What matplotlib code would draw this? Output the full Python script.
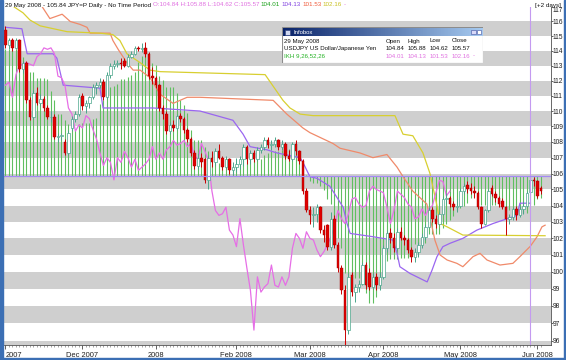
import matplotlib
matplotlib.use('Agg')
import matplotlib.pyplot as plt
import numpy as np
import pandas as pd
from matplotlib.patches import Rectangle

# USD/JPY daily, 1 Nov 2007 - 3 Jun 2008 (weekdays)
dates = pd.bdate_range('2007-11-01', '2008-06-03')

opens = [115.4,114.4,114.7,114.2,114.7,112.8,113.2,110.7,109.6,111.2,110.5,110.8,110.2,109.6,109.6,108.3,108.4,108.0,107.3,108.9,109.5,109.8,
         111.0,110.3,110.5,110.9,111.6,111.7,111.9,110.9,112.4,113.0,113.1,113.2,113.3,113.0,113.6,113.8,114.2,114.1,114.2,113.8,112.3,
         112.2,111.7,110.2,109.8,108.7,109.1,108.9,109.7,109.5,108.8,108.2,107.3,106.5,107.0,106.9,105.6,107.0,106.7,107.4,107.0,106.4,106.9,106.2,
         106.4,106.6,106.9,107.7,106.9,107.3,106.9,107.5,107.7,108.1,107.8,107.9,108.1,107.7,107.9,107.1,106.9,107.9,107.4,106.8,104.9,
         103.7,103.4,103.5,103.9,102.5,102.8,101.5,103.2,101.6,100.2,98.9,96.6,99.8,98.8,99.1,99.3,100.4,99.9,99.1,99.7,99.2,
         99.7,101.4,102.3,102.0,101.4,102.4,102.0,101.9,101.3,100.9,101.2,101.6,102.1,102.7,103.7,103.2,102.9,103.5,104.4,104.5,104.1,103.9,
         104.0,104.9,105.3,105.1,104.9,104.8,103.9,102.9,103.7,105.1,104.7,104.5,104.3,103.9,103.2,103.3,103.8,103.4,103.8,104.0,104.84,105.57,
         105.5,105.1]
highs = [115.7,114.9,114.9,114.9,114.8,113.3,113.3,110.9,111.4,111.6,111.1,111.0,110.4,110.0,109.8,108.6,108.6,108.2,108.8,109.7,110.0,111.1,
         111.2,110.7,111.0,111.8,111.9,112.2,112.1,112.6,113.2,113.4,113.4,113.5,113.5,113.8,114.0,114.3,114.3,114.5,114.6,113.9,112.9,
         112.3,111.8,110.4,110.0,109.3,109.4,109.8,109.9,109.6,108.9,108.3,107.5,107.3,107.3,107.0,107.2,107.4,107.6,107.9,107.1,107.1,107.0,106.7,
         107.0,107.1,107.9,107.8,107.5,107.5,107.7,107.9,108.3,108.3,108.1,108.3,108.2,108.1,108.0,107.5,108.0,108.1,107.5,106.9,105.1,
         104.0,103.9,104.1,104.0,102.8,102.9,103.6,103.4,101.8,100.4,99.2,99.9,100.0,99.3,99.5,100.6,100.6,100.2,99.9,99.9,100.0,
         101.6,102.5,102.6,102.3,102.6,102.7,102.2,102.0,101.5,101.4,101.8,102.3,102.9,103.9,103.9,103.4,103.6,104.6,104.8,104.6,104.3,104.4,
         105.1,105.4,105.5,105.4,105.2,104.9,104.0,103.8,105.0,105.3,104.9,104.6,104.5,104.0,103.5,103.9,104.0,104.0,104.3,104.9,105.88,105.8,
         105.6,105.2]
lows = [114.2,114.1,114.0,114.1,112.6,112.5,110.5,109.4,109.5,110.4,110.3,110.0,109.5,109.3,108.2,108.0,108.1,107.2,107.2,108.7,109.3,109.7,
        110.1,109.9,110.2,110.8,111.1,111.5,110.7,110.8,112.2,112.8,112.9,112.8,112.9,112.9,113.5,113.7,114.0,113.9,113.6,112.1,111.8,
        111.5,110.0,109.5,108.5,108.5,108.7,108.8,109.3,108.6,108.0,107.1,106.3,106.3,106.4,105.4,105.0,106.4,106.5,106.9,106.2,106.3,106.0,105.9,
        106.1,106.3,106.5,106.6,106.6,106.7,106.8,107.3,107.5,107.6,107.5,107.7,107.5,107.5,106.9,106.8,106.8,107.2,106.6,104.7,103.6,
        102.9,102.7,103.0,102.3,101.8,101.3,101.3,101.4,100.0,98.7,95.7,96.4,98.6,98.2,98.8,99.2,99.0,98.9,99.0,98.9,98.9,
        99.6,101.2,101.7,101.2,101.3,101.9,101.6,101.1,100.6,100.6,100.9,101.4,101.9,102.6,103.0,102.6,102.8,103.4,104.1,103.9,103.7,103.6,
        103.9,104.7,104.8,104.7,104.5,103.8,102.6,102.8,103.6,104.6,104.2,103.9,103.8,102.2,102.9,103.1,103.1,103.3,103.5,103.9,104.62,105.2,
        104.5,104.7]
closes = [114.4,114.7,114.2,114.7,112.8,113.2,110.7,109.6,111.2,110.5,110.8,110.2,109.6,109.6,108.3,108.4,108.4,107.3,108.6,109.5,109.8,110.9,
          110.3,110.5,110.9,111.6,111.7,111.9,110.9,112.4,113.0,113.1,113.2,113.1,113.0,113.6,113.8,114.2,114.1,114.2,113.8,112.3,112.2,
          111.7,110.2,109.8,108.7,109.1,108.9,109.7,109.5,108.8,108.2,107.3,106.5,107.0,106.7,105.6,107.0,106.7,107.4,107.0,106.4,106.9,106.2,106.4,
          106.6,106.9,107.7,106.9,107.3,106.9,107.5,107.7,108.1,107.8,107.9,108.1,107.7,107.9,107.1,106.9,107.9,107.4,106.8,104.9,103.7,
          103.4,103.5,103.9,102.5,102.2,101.5,103.2,101.6,100.2,98.9,96.6,99.7,98.8,99.1,99.3,100.4,99.2,99.1,99.7,99.2,99.7,
          101.4,102.3,102.0,101.4,102.4,102.0,101.9,101.3,100.9,101.2,101.6,102.1,102.7,103.7,103.2,102.9,103.5,104.4,104.5,104.1,103.9,104.0,
          104.9,105.2,105.0,104.9,104.8,103.9,102.9,103.7,104.9,104.7,104.5,104.1,103.9,103.2,103.3,103.8,103.4,103.8,104.0,104.8,105.57,105.5,
          104.6,104.9]

# Tenkan-sen (9) per day, drawn as green histogram against the cursor price
tenkan = [114.1, 114.1, 114.1, 114.1, 113.7, 113.6, 112.9, 112.6, 112.55, 112.15,
          112.15, 112.15, 112.1, 111.3, 110.75, 109.8, 109.8, 109.4, 109.15, 109.1,
          108.8, 109.15, 109.2, 109.2, 109.2, 109.5, 109.55, 110.45, 110.75, 111.15,
          111.55, 111.65, 111.8, 112.1, 112.1, 112.25, 112.35, 112.55, 113.25, 113.65,
          113.7, 113.35, 113.2, 113.05, 112.3, 112.05, 111.55, 111.55, 111.55, 111.2,
          110.7, 110.4, 109.9, 108.75, 108.15, 108.1, 108.1, 107.65, 107.45, 107.3,
          106.95, 106.65, 106.45, 106.45, 106.45, 106.45, 106.45, 106.9, 106.9, 106.9,
          106.9, 106.9, 106.9, 106.9, 107.2, 107.3, 107.4, 107.45, 107.45, 107.5,
          107.55, 107.55, 107.55, 107.55, 107.45, 106.5, 105.9, 105.5, 105.4, 105.4,
          105.2, 104.95, 104.4, 104.1, 103.2, 102.05, 101.4, 99.9, 99.85, 99.65,
          99.65, 99.65, 99.55, 98.75, 98.15, 98.15, 98.5, 99.4, 99.9, 100.65,
          100.75, 100.75, 100.75, 100.8, 100.8, 100.8, 101.15, 101.65, 101.65, 101.65,
          101.75, 102.25, 102.25, 102.25, 102.25, 102.6, 102.85, 103.1, 103.35, 103.7,
          103.85, 104.0, 104.15, 104.45, 104.55, 104.55, 104.05, 104.05, 104.05, 104.05,
          104.05, 104.0, 103.95, 103.75, 103.75, 103.75, 103.75, 103.75, 103.55, 103.55,
          104.01, 104.04, 104.4, 104.5]

# Ichimoku lines: (day index, price)
kijun_x = [0, 4.7, 6.2, 13.6, 14.7, 16.5, 27, 27.9, 42.2, 55.6, 65, 67.9, 69.9, 74.7, 77.6, 84.2, 85, 87, 89, 92.7, 96.5,
           97.6, 98.5, 105, 110.7, 111.9, 112.7, 115.6, 120.5, 121.9, 123.3, 125, 127, 130.7, 134.7, 139.3, 146.2, 147, 150]
kijun_y = [115.6, 115.5, 113.8, 113.8, 113.5, 111.7, 111.5, 110.2, 110.2, 110.0, 109.4, 108.5, 107.7, 107.5, 107.3, 107.0, 106.7,
           105.8, 105.7, 105.2, 103.9, 102.9, 102.3, 102.1, 101.9, 101.1, 100.3, 99.9, 99.4, 100.1, 100.9, 101.5, 101.7, 102.0,
           102.5, 102.9, 103.4, 104.15, 104.15]
spanA_x = [10, 12.7, 16.2, 18.5, 21.3, 23.3, 24.2, 29.9, 30.7, 32.2, 34.7, 36.5, 38.5, 41.3, 44.2, 47.9, 51.9, 55.6, 76.5, 80.4,
           85, 87, 93.6, 95.6, 101.3, 105, 109, 111.9, 113.6, 116.4, 118.4, 120.4, 121.9, 122.7, 124.2, 126.2, 129, 130.7, 133.6,
           135.6, 137.6, 141.3, 145, 147, 150, 151.9, 153.3, 154.2]
spanA_y = [117.2, 116.2, 116.5, 116.0, 115.8, 115.6, 115.2, 115.2, 114.7, 114.1, 113.2, 112.7, 112.7, 112.2, 111.1, 110.5, 110.9,
           110.9, 110.7, 109.8, 108.9, 108.6, 107.9, 107.6, 107.3, 107.0, 107.2, 106.4, 105.8, 104.9, 104.5, 104.1, 102.7, 101.9,
           101.0, 100.7, 100.5, 100.3, 100.9, 101.1, 100.7, 100.4, 100.5, 100.9, 101.53, 102.1, 102.7, 102.8]
spanB_x = [2.5, 5, 7, 9.9, 17.6, 27, 30.7, 32.7, 34.7, 38.5, 41.3, 44.2, 74.2, 79.3, 81.3, 84.2, 87.9, 111.3, 113.6, 116.4, 119.3,
           121.3, 123.3, 124.2, 126.2, 130.7, 154.2]
spanB_y = [117.0, 116.6, 116.1, 115.7, 115.3, 115.2, 115.1, 114.7, 113.8, 113.2, 112.7, 112.6, 112.4, 110.7, 110.2, 109.8, 109.7,
           109.7, 108.5, 108.4, 107.3, 106.0, 104.0, 102.9, 102.7, 102.2, 102.16]

cursor_day = 150
cursor_price = 105.84
y_ticks = list(range(96, 118))
month_days = ['2007-11-01', '2007-12-03', '2008-01-01', '2008-02-01', '2008-03-03', '2008-04-01', '2008-05-01', '2008-06-02']
month_labels = ['2007', 'Dec 2007', '2008', 'Feb 2008', 'Mar 2008', 'Apr 2008', 'May 2008', 'Jun 2008']

W, H = 566, 360
plt.rcParams['font.family'] = ['Liberation Sans', 'DejaVu Sans']
fig = plt.figure(figsize=(W / 100, H / 100), dpi=100)
fig.patch.set_facecolor('white')

# plot area in pixel terms
px_l, px_r, px_t, px_b = 4.4, 550.5, 7, 345
ax = fig.add_axes([px_l / W, 1 - px_b / H, (px_r - px_l) / W, (px_b - px_t) / H])
ax.set_yscale('log')
ax.set_xlim(-0.3, (px_r - 5.4) / 3.5)
ax.set_ylim(95.75, 116.95)

# grey stripes
for k in range(95, 118, 2):
    ax.axhspan(k, k + 1, color='#cfcfcf', lw=0, zorder=0)

x = np.arange(len(closes))
o = np.array(opens); hi = np.array(highs); lo = np.array(lows); c = np.array(closes)
g = np.array(tenkan)

# green histogram from the cursor price level
ax.vlines(x, np.minimum(g, cursor_price), np.maximum(g, cursor_price), color='#5fbf5f', lw=0.8, zorder=1)

# ichimoku lines
ax.plot(kijun_x, kijun_y, color='#9a66f0', lw=0.9, zorder=3)
ax.plot(spanA_x, spanA_y, color='#f08a6a', lw=0.9, zorder=3)
ax.plot(spanB_x, spanB_y, color='#d8cf30', lw=0.9, zorder=3)
ax.plot(x[26:] - 26, c[26:], color='#e66ee6', lw=0.9, zorder=3)

# candles
up = c >= o
ax.vlines(x[~up], lo[~up], hi[~up], color='#c80000', lw=0.7, zorder=4)
ax.vlines(x[up], lo[up], hi[up], color='#4aa58a', lw=0.7, zorder=4)
ax.bar(x[~up], (o - c)[~up], bottom=c[~up], width=0.72, color='#e00000', edgecolor='#a00000', lw=0.3, zorder=5)
ax.bar(x[up], np.maximum((c - o)[up], 0.03), bottom=o[up], width=0.72, color='white', edgecolor='#4aa58a', lw=0.5, zorder=5)

# cursor cross-hair
ax.axvline(cursor_day, color='#c49af0', lw=0.8, zorder=6)
ax.axhline(cursor_price, color='#a48af5', lw=0.9, zorder=6)
# lowest low marker on the time axis
low_day = int(np.argmin(lo))
ax.vlines(low_day, 95.75, 95.98, color='#e00000', lw=0.8, zorder=7)

# axes styling
for s in ['top', 'left']:
    ax.spines[s].set_visible(False)
ax.spines['right'].set_color('#505050')
ax.spines['bottom'].set_color('#505050')
ax.spines['right'].set_linewidth(0.6)
ax.spines['bottom'].set_linewidth(0.6)
ax.yaxis.tick_right()
ax.set_yticks(y_ticks)
ax.set_yticklabels([str(v) for v in y_ticks])
ax.yaxis.set_minor_locator(matplotlib.ticker.NullLocator())
ax.tick_params(axis='y', which='major', labelsize=4.8, length=1.2, width=0.5, pad=0.4, colors='#202020')
ylabs = ax.get_yticklabels()
ylabs[-1].set_va('top')

tick_pos = [dates.get_loc(pd.Timestamp(d)) for d in month_days]
ax.set_xticks(tick_pos)
ax.set_xticklabels(month_labels)
ax.set_xticks(x, minor=True)
ax.tick_params(axis='x', which='major', labelsize=5.4, length=3, width=0.5, pad=2, colors='#202020')
ax.tick_params(axis='x', which='minor', length=1.2, width=0.4, colors='#606060')
ax.get_xticklabels()[0].set_ha('left')

# header line with coloured pieces
renderer = fig.canvas.get_renderer()
def put_row(x0, y0, parts, size):
    xp = x0
    for s, col in parts:
        t = fig.text(xp / W, 1 - y0 / H, s, color=col, fontsize=size, va='center', ha='left')
        bb = t.get_window_extent(renderer)
        xp = bb.x1 + 1.5

put_row(5, 5, [('29 May 2008 - 105.84 JPY=P Daily - No Time Period', '#101010'),
               ('O:104.84 H:105.88 L:104.62 C:105.57', '#e070e0'),
               ('104.01', '#18a018'), ('104.13', '#8040e0'), ('101.53', '#f05a3a'),
               ('102.16', '#c8c020'), ('-', '#e070e0')], 4.5)
fig.text(561 / W, 1 - 5 / H, '[+2 days]', fontsize=4.5, ha='right', va='center', color='#101010')

# infobox
bx0, by0, bw, bh = 282, 27, 201, 36
bax = fig.add_axes([bx0 / W, 1 - (by0 + bh) / H, bw / W, bh / H])
bax.set_xlim(0, bw)
bax.set_ylim(bh, 0)
bax.axis('off')
bax.add_patch(Rectangle((0, 0), bw, bh, facecolor='white', edgecolor='#8c8c8c', lw=0.8))
grad = np.linspace(0, 1, 200).reshape(1, -1)
bax.imshow(grad, extent=(1, bw - 1, 9, 1), cmap=matplotlib.colors.LinearSegmentedColormap.from_list('tb', ['#0a246a', '#a6caf0']),
           aspect='auto', zorder=2)
bax.text(11, 5, 'Infobox', color='white', fontsize=4.3, va='center', zorder=3)
bax.add_patch(Rectangle((3, 2.5), 5, 5, facecolor='#d0d8f0', edgecolor='#30407a', lw=0.4, zorder=3))
bax.add_patch(Rectangle((bw - 12, 2.5), 4.5, 4.5, facecolor='#d8d8f8', edgecolor='#4050a0', lw=0.4, zorder=3))
bax.add_patch(Rectangle((bw - 6.5, 2.5), 4.5, 4.5, facecolor='white', edgecolor='#4050a0', lw=0.4, zorder=3))
cols = [104, 126, 148, 170]
bax.text(2, 14, '29 May 2008', fontsize=4.4, va='center', color='#101010')
for cx, s in zip(cols, ['Open', 'High', 'Low', 'Close']):
    bax.text(cx, 14, s, fontsize=4.4, va='center', color='#101010')
bax.text(2, 21.5, 'USDJPY US Dollar/Japanese Yen', fontsize=4.4, va='center', color='#101010')
for cx, s in zip(cols, ['104.84', '105.88', '104.62', '105.57']):
    bax.text(cx, 21.5, s, fontsize=4.4, va='center', color='#101010')
bax.text(2, 29, 'IKH 9,26,52,26', fontsize=4.4, va='center', color='#20b020')
for cx, s in zip(cols, ['104.01', '104.13', '101.53', '102.16']):
    bax.text(cx, 29, s, fontsize=4.4, va='center', color='#e070e0')
bax.text(191, 29, '-', fontsize=4.4, va='center', color='#e070e0')

# window frame
fig.patches.append(Rectangle((0, 0), 3 / W, 1, transform=fig.transFigure, color='#3c6fb4', zorder=10))
fig.patches.append(Rectangle((564 / W, 0), 2 / W, 1, transform=fig.transFigure, color='#3c6fb4', zorder=10))
fig.patches.append(Rectangle((0, 0), 1, 2 / H, transform=fig.transFigure, color='#3c6fb4', zorder=10))

fig.savefig('out.png', dpi=100, facecolor='white')
